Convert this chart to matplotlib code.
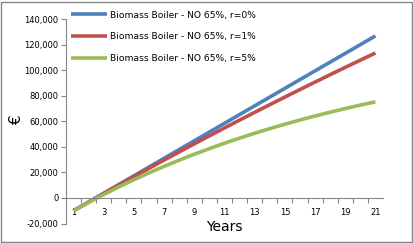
# Biomass boiler cumulative savings — Excel-style line chart

import matplotlib.pyplot as plt
import matplotlib.patches as patches
from matplotlib.ticker import FuncFormatter

# ── data
years = list(range(1, 22))

r0 = [-10000, -3150, 3700, 10550, 17400, 24250, 31100, 37950, 44800, 51650,
      58500, 65350, 72200, 79050, 85900, 92750, 99600, 106450, 113300,
      120150, 127000]
r1 = [-10000, -3218, 3497, 10146, 16728, 23246, 29699, 36088, 42414, 48677,
      54878, 61018, 67097, 73116, 79075, 84975, 90817, 96601, 102328,
      107998, 113612]
r5 = [-10000, -3476, 2737, 8654, 14290, 19657, 24768, 29636, 34273, 38688,
      42894, 46899, 50713, 54346, 57805, 61100, 64238, 67227, 70073,
      72784, 75365]

labels = ["Biomass Boiler - NO 65%, r=0%",
          "Biomass Boiler - NO 65%, r=1%",
          "Biomass Boiler - NO 65%, r=5%"]
series = [r0, r1, r5]
colors = ["#4F81BD", "#C0504D", "#9BBB59"]

y_ticks = list(range(-20000, 140001, 20000))
x_labels = list(range(1, 22, 2))

W, H = 414, 243
fig = plt.figure(figsize=(W / 100, H / 100), dpi=100)
ax = fig.add_axes([66 / W, 1 - 223.5 / H, (383 - 66) / W, (223.5 - 19.3) / H])

for vals, lab, col in zip(series, labels, colors):
    ax.plot(years, vals, color=col, linewidth=2.6, label=lab,
            solid_capstyle="butt")

ax.set_xlim(0.5, 21.5)
ax.set_ylim(-20000, 140000)
ax.set_yticks(y_ticks)
ax.yaxis.set_major_formatter(FuncFormatter(lambda v, p: f"{int(v):,}"))

# category axis: labels every 2, tick marks between categories
ax.set_xticks(x_labels)
ax.set_xticks([y + 0.5 for y in years[:-1]], minor=True)
ax.tick_params(axis="x", which="major", length=0, pad=7, labelsize=6)
ax.tick_params(axis="x", which="minor", length=3.5, width=0.8,
               color="#868686", direction="out")
ax.tick_params(axis="y", length=3.5, width=0.8, color="#868686",
               labelsize=6, pad=2)

for s in ["top", "right"]:
    ax.spines[s].set_visible(False)
ax.spines["bottom"].set_position(("data", 0))
for s in ["left", "bottom"]:
    ax.spines[s].set_color("#868686")
    ax.spines[s].set_linewidth(0.8)

ax.legend(loc="upper left", bbox_to_anchor=(0.0, 1.07), frameon=False,
          fontsize=6.6, handlelength=3.9, handletextpad=0.3,
          labelspacing=1.4, borderaxespad=0.2)

fig.text(17 / W, 1 - 120 / H, "€", rotation=90, fontsize=11,
         ha="center", va="center")
fig.text(224 / W, 1 - 227 / H, "Years", fontsize=10,
         ha="center", va="center")

# outer chart border
fig.patches.append(patches.Rectangle((1.5 / W, 1.5 / H), (W - 3.5) / W,
                                     (H - 3.5) / H, transform=fig.transFigure,
                                     fill=False, edgecolor="#868686",
                                     linewidth=1))

plt.savefig("out.png", dpi=100)
plt.close()
